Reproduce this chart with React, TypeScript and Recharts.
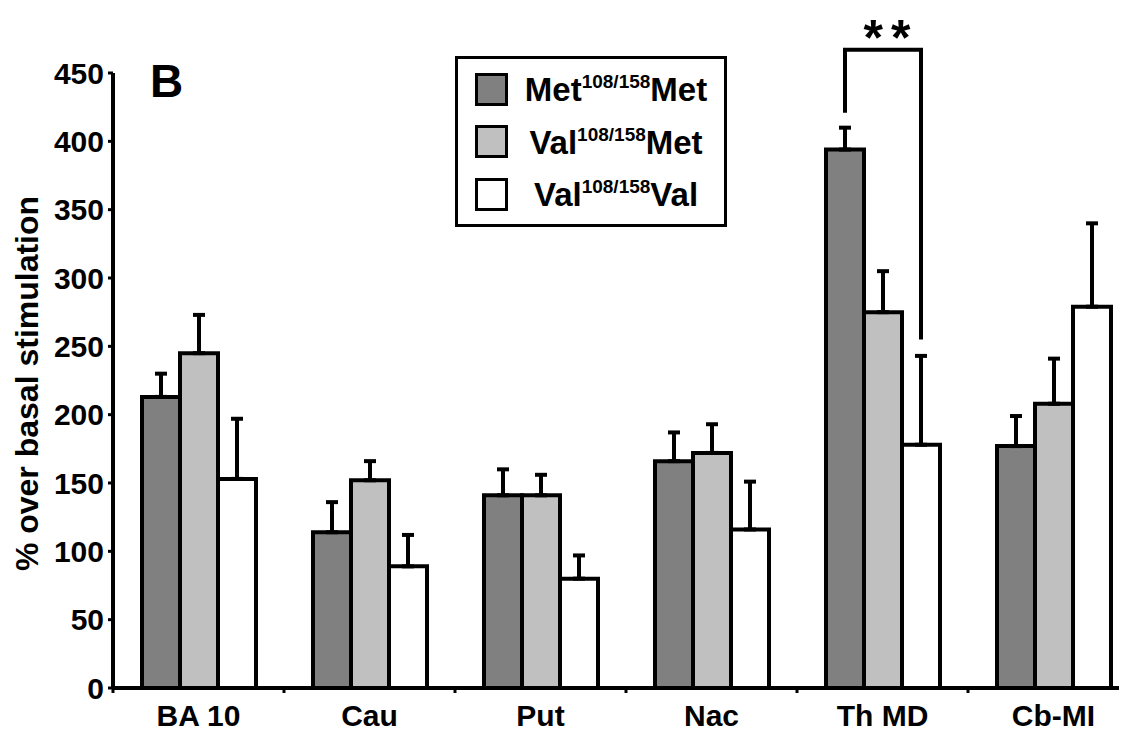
import React from 'react';
import { BarChart, Bar, XAxis, YAxis, ErrorBar, Legend, Customized } from 'recharts';

// brain regions
const categories = ['BA 10', 'Cau', 'Put', 'Nac', 'Th MD', 'Cb-MI'];

// % over basal stimulation (mean) and upper error (SEM)
const metMet = [213, 114, 141, 166, 394, 177];
const metMetErr = [17, 22, 19, 21, 16, 22];
const valMet = [245, 152, 141, 172, 275, 208];
const valMetErr = [28, 14, 15, 21, 30, 33];
const valVal = [153, 89, 80, 116, 178, 279];
const valValErr = [44, 23, 17, 35, 65, 61];

const yTicks = [0, 50, 100, 150, 200, 250, 300, 350, 400, 450];

// significance bracket over Th MD, Met/Met vs Val/Val
const sigIndex = 4;
const sigTop = 467;
const sigLeftEnd = 421;
const sigRightEnd = 255;
const sigText = '**';

const series = [
  { key: 'metMet', pre: 'Met', sup: '108/158', post: 'Met', fill: '#808080' },
  { key: 'valMet', pre: 'Val', sup: '108/158', post: 'Met', fill: '#c0c0c0' },
  { key: 'valVal', pre: 'Val', sup: '108/158', post: 'Val', fill: '#ffffff' },
];

const data = categories.map((name, i) => ({
  name,
  metMet: metMet[i],
  metMetErr: [0, metMetErr[i]],
  valMet: valMet[i],
  valMetErr: [0, valMetErr[i]],
  valVal: valVal[i],
  valValErr: [0, valValErr[i]],
}));

const font = '"Liberation Sans", Arial, Helvetica, sans-serif';

const CategoryTick = (props: any) => {
  const { x, y, payload } = props;
  const half = payload && payload.offset != null ? payload.offset : 0;
  return (
    <g>
      <line x1={x - half} x2={x - half} y1={y - 5} y2={y} stroke="#000" strokeWidth={3} />
      <text x={x} y={y + 33} textAnchor="middle" fontFamily={font} fontWeight={700} fontSize={30} fill="#000">
        {payload.value}
      </text>
    </g>
  );
};

const renderBracket = (props: any) => {
  const { x, y, width, height, value, index } = props;
  if (index !== sigIndex || !value) return null;
  const perUnit = height / value;
  const base = y + height;
  const yOf = (v: number) => base - v * perUnit;
  const xr = x + width / 2;
  const xl = xr - 2 * width;
  const top = yOf(sigTop);
  return (
    <g>
      <polyline
        points={`${xl},${yOf(sigLeftEnd)} ${xl},${top} ${xr},${top} ${xr},${yOf(sigRightEnd)}`}
        fill="none"
        stroke="#000"
        strokeWidth={4}
      />
      <text x={(xl + xr) / 2 + 8} y={top + 5} textAnchor="middle" fontFamily={font} fontWeight={700} fontSize={50} letterSpacing={8} fill="#000">
        {sigText}
      </text>
    </g>
  );
};

const PanelLetter = () => (
  <text x={142} y={89} fontFamily={font} fontWeight={700} fontSize={46} fill="#000">B</text>
);

const LegendBox = () => (
  <div
    style={{
      boxSizing: 'border-box',
      width: 272,
      height: 171,
      border: '3px solid #000',
      background: '#fff',
      paddingTop: 4,
      fontFamily: font,
      color: '#000',
    }}
  >
    {series.map((s) => (
      <div key={s.key} style={{ display: 'flex', alignItems: 'center', height: 52.5 }}>
        <div
          style={{
            width: 33,
            height: 33,
            boxSizing: 'border-box',
            border: '3px solid #000',
            background: s.fill,
            marginLeft: 17,
          }}
        />
        <div style={{ flex: 1, textAlign: 'center', fontWeight: 700, fontSize: 33, lineHeight: 1, whiteSpace: 'nowrap' }}>
          {s.pre}
          <span style={{ fontSize: 19, verticalAlign: '13px' }}>{s.sup}</span>
          {s.post}
        </div>
      </div>
    ))}
  </div>
);

export default function App() {
  return (
    <div style={{ width: 1119, marginRight: -8, overflow: 'hidden', background: '#fff' }}>
      <BarChart
        width={1132}
        height={725}
        data={data}
        margin={{ top: 65, right: 1, bottom: 5, left: 0 }}
        barGap={0}
        barSize={38}
      >
        <XAxis
          dataKey="name"
          height={40}
          axisLine={{ stroke: '#000', strokeWidth: 4 }}
          tickLine={false}
          tickSize={5}
          tickMargin={0}
          tick={<CategoryTick />}
          interval={0}
        />
        <YAxis
          width={105}
          domain={[0, 450]}
          ticks={yTicks}
          interval={0}
          axisLine={{ stroke: '#000', strokeWidth: 4 }}
          tickLine={{ stroke: '#000', strokeWidth: 3 }}
          tickSize={5}
          tickMargin={4}
          tick={{ fontFamily: font, fontWeight: 700, fontSize: 30, fill: '#000' }}
          label={{
            content: (p: any) => {
              const vb = p.viewBox || { x: 0, y: 65, height: 615 };
              const cx = vb.x + 30;
              const cy = vb.y + vb.height / 2 + 3;
              return (
                <text
                  x={cx}
                  y={cy}
                  transform={`rotate(-90, ${cx}, ${cy})`}
                  textAnchor="middle"
                  fontFamily={font}
                  fontWeight={700}
                  fontSize={32}
                  fill="#000"
                >
                  % over basal stimulation
                </text>
              );
            },
          }}
        />
        <Legend
          layout="vertical"
          align="center"
          verticalAlign="middle"
          content={<LegendBox />}
          wrapperStyle={{ left: 447, top: 48, width: 272, height: 171 }}
        />
        <Bar dataKey="metMet" name="Met108/158Met" fill="#808080" stroke="#000" strokeWidth={4} isAnimationActive={false}>
          <ErrorBar dataKey="metMetErr" direction="y" width={6} stroke="#000" strokeWidth={4} isAnimationActive={false} />
        </Bar>
        <Bar dataKey="valMet" name="Val108/158Met" fill="#c0c0c0" stroke="#000" strokeWidth={4} isAnimationActive={false}>
          <ErrorBar dataKey="valMetErr" direction="y" width={6} stroke="#000" strokeWidth={4} isAnimationActive={false} />
        </Bar>
        <Bar
          dataKey="valVal"
          name="Val108/158Val"
          fill="#ffffff"
          stroke="#000"
          strokeWidth={4}
          isAnimationActive={false}
          label={renderBracket}
        >
          <ErrorBar dataKey="valValErr" direction="y" width={6} stroke="#000" strokeWidth={4} isAnimationActive={false} />
        </Bar>
        <Customized component={<PanelLetter />} />
      </BarChart>
    </div>
  );
}
